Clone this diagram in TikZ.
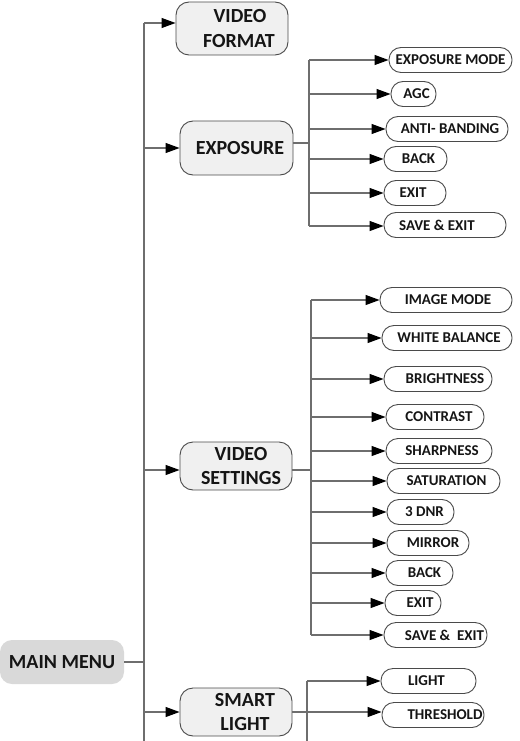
\documentclass[tikz,border=0pt]{standalone}
\usepackage{fontspec}
\setmainfont{Carlito}
\usetikzlibrary{arrows.meta}
\definecolor{linec}{HTML}{6E6E6E}
\definecolor{boxline}{HTML}{4A4A4A}
\definecolor{mainfill}{HTML}{F0F0F0}
\definecolor{menufill}{HTML}{D9D9D9}
\definecolor{txt}{HTML}{151515}
\newcommand{\rs}[2]{\hspace*{#1pt}#2}% shift text right by #1/2
\newcommand{\ls}[2]{#2\hspace*{#1pt}}% shift text left by #1/2
\tikzset{
  mainbox/.style={draw=boxline, line width=0.9pt, fill=mainfill, rounded corners=13pt,
    inner sep=0pt, align=center, text=txt, font=\fontsize{20}{24.5}\selectfont\bfseries},
  menubox/.style={fill=menufill, rounded corners=12pt, inner sep=0pt, text=txt,
    minimum width=124pt, minimum height=44pt, font=\fontsize{20}{24}\selectfont\bfseries},
  subbox/.style={draw=boxline, line width=0.9pt, fill=white, rounded corners=12pt,
    inner sep=0pt, minimum height=25pt, text=txt, font=\fontsize{15}{17}\selectfont\bfseries},
  conn/.style={draw=linec, line width=1.1pt},
  arr/.style={conn, -{Triangle[length=14pt,width=10pt,fill=black,color=black]}},
}
\begin{document}
\begin{tikzpicture}[x=1pt,y=-1pt]
\useasboundingbox (0,0) rectangle (519,741);

% main nodes
\node[menubox] (mm) at (62,662) {MAIN MENU};
\node[mainbox, minimum width=112pt, minimum height=53pt] (vf) at (232,28.5) {\rs{16}{VIDEO}\\\rs{14}{FORMAT}};
\node[mainbox, minimum width=113pt, minimum height=54pt] (ex) at (236.5,148) {\rs{7}{EXPOSURE}};
\node[mainbox, minimum width=112pt, minimum height=48pt] (vs) at (236,466) {\rs{10}{VIDEO}\\\rs{10}{SETTINGS}};
\node[mainbox, minimum width=112pt, minimum height=48pt] (sl) at (236,712) {\rs{18}{SMART}\\\rs{18}{LIGHT}};

% exposure sub items
\node[subbox, minimum width=123pt] (e1) at (450.5,60) {EXPOSURE MODE};
\node[subbox, minimum width=45pt]  (e2) at (413.5,94) {\rs{6}{AGC}};
\node[subbox, minimum width=122pt] (e3) at (447,129) {\rs{6}{ANTI- BANDING}};
\node[subbox, minimum width=63pt]  (e4) at (415.5,159) {\rs{6}{BACK}};
\node[subbox, minimum width=62pt]  (e5) at (415,193) {\ls{4}{EXIT}};
\node[subbox, minimum width=122pt] (e6) at (445,225) {\ls{16}{SAVE \& EXIT}};

% video settings sub items
\node[subbox, minimum width=132pt] (v1) at (446,300) {\rs{4}{IMAGE MODE}};
\node[subbox, minimum width=130pt] (v2) at (447,338) {\rs{4}{WHITE BALANCE}};
\node[subbox, minimum width=108pt] (v3) at (438,379) {\rs{14}{BRIGHTNESS}};
\node[subbox, minimum width=98pt]  (v4) at (435,417) {\rs{8}{CONTRAST}};
\node[subbox, minimum width=106pt] (v5) at (439,451) {\rs{6}{SHARPNESS}};
\node[subbox, minimum width=113pt] (v6) at (443.5,481) {\rs{6}{SATURATION}};
\node[subbox, minimum width=67pt]  (v7) at (420.5,512) {\rs{8}{3 DNR}};
\node[subbox, minimum width=82pt]  (v8) at (428,543) {\rs{10}{MIRROR}};
\node[subbox, minimum width=67pt]  (v9) at (419.5,573) {\rs{10}{BACK}};
\node[subbox, minimum width=56pt]  (v10) at (413,603) {\rs{14}{EXIT}};
\node[subbox, minimum width=103pt] (v11) at (435.5,635) {\rs{18}{SAVE \&\ \ EXIT}};

% smart light sub items
\node[subbox, minimum width=95pt]  (s1) at (428.5,681) {\ls{4}{LIGHT}};
\node[subbox, minimum width=102pt] (s2) at (433,715) {\rs{24}{THRESHOLD}};

% main trunk
\coordinate (ttop) at (144,23);
\coordinate (tbot) at (144,741);
\draw[conn] (ttop) -- (tbot);
\draw[conn] (mm.east) -- (mm.east -| ttop);
\draw[arr] (ttop) -- (ttop -| vf.west);
\draw[arr] (ex.west -| ttop) -- (ex.west);
\coordinate (tvs) at (144,470);
\draw[arr] (tvs) -- (tvs -| vs.west);
\draw[arr] (sl.west -| ttop) -- (sl.west);

% exposure subtree
\coordinate (etop) at (309,60);
\coordinate (ebot) at (309,226);
\coordinate (emid) at (309,143);
\draw[conn] (etop) -- (ebot);
\draw[conn] (emid -| ex.east) -- (emid);
\foreach \n/\y in {e1/60,e2/94,e3/129,e4/159,e5/193,e6/226}{
  \draw[arr] (309,\y) -- (309,\y -| \n.west);
}

% video settings subtree
\coordinate (vtop) at (311,300);
\coordinate (vbot) at (311,635);
\coordinate (vmid) at (311,470);
\draw[conn] (vtop) -- (vbot);
\draw[conn] (vmid -| vs.east) -- (vmid);
\foreach \n in {v1,v2,v3,v4,v5,v6,v7,v8,v9,v10,v11}{
  \draw[arr] (\n.west -| vtop) -- (\n.west);
}

% smart light subtree
\coordinate (stop) at (307,681);
\coordinate (sbot) at (307,741);
\coordinate (smid) at (307,712);
\draw[conn] (stop) -- (sbot);
\draw[conn] (smid -| sl.east) -- (smid);
\draw[arr] (s1.west -| stop) -- (s1.west);
\draw[arr] (smid) -- (smid -| s2.west);
\end{tikzpicture}
\end{document}
